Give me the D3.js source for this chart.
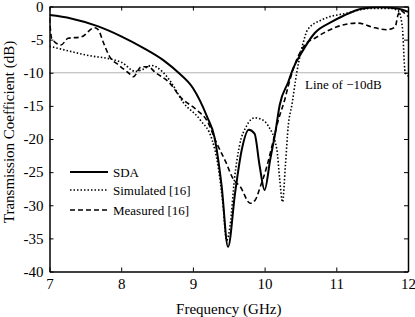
<!DOCTYPE html>
<html>
<head>
<meta charset="utf-8">
<script src="https://cdn.jsdelivr.net/npm/d3@7"></script>
<style>
  body { margin: 0; background: #fff; }
</style>
</head>
<body>
<div id="chart"></div>
<script>
// frequency (GHz) / transmission (dB)
var sdaF = [7.0, 7.3, 7.68, 8.0, 8.3, 8.6, 8.8, 9.0, 9.2, 9.3, 9.4, 9.49, 9.59, 9.68, 9.78, 9.86, 9.93, 10.0, 10.08, 10.15, 10.21, 10.33, 10.4, 10.52, 10.7, 10.94, 11.1, 11.37, 11.6, 11.85, 12.0];
var sdaDB = [-1.3, -1.8, -3.0, -4.5, -6.2, -8.2, -10, -12.3, -16.7, -19.7, -27, -36.3, -28, -21.7, -18.6, -19.2, -24, -27.7, -23, -19, -14.9, -11.4, -9.3, -6.9, -4, -2.3, -1.4, -0.3, -0.1, -0.3, -0.8];

var simF = [7.0, 7.5, 8.0, 8.2, 8.3, 8.42, 8.58, 8.7, 8.86, 9.1, 9.27, 9.35, 9.42, 9.47, 9.52, 9.58, 9.65, 9.75, 9.86, 9.95, 10.05, 10.17, 10.21, 10.25, 10.29, 10.33, 10.38, 10.45, 10.54, 10.6, 10.8, 11.15, 11.47, 11.75, 11.86, 11.92, 11.96, 12.0];
var simDB = [-6.0, -7.3, -8.4, -9.8, -9.5, -8.9, -9.9, -11.5, -14.4, -17.1, -20.2, -24, -30, -35.3, -33, -26, -21, -18, -16.8, -17, -18, -21.5, -26, -29.5, -24, -18, -14.9, -9.9, -5.4, -3.5, -2, -1, -0.3, -0.3, -0.6, -3, -9.9, -10.5];

var measF = [7.0, 7.03, 7.16, 7.26, 7.44, 7.63, 7.68, 7.75, 7.84, 7.96, 8.1, 8.17, 8.28, 8.38, 8.47, 8.68, 8.82, 9.05, 9.2, 9.33, 9.46, 9.56, 9.66, 9.8, 9.87, 9.94, 10.03, 10.1, 10.19, 10.28, 10.33, 10.42, 10.56, 10.7, 10.84, 11.0, 11.3, 11.5, 11.7, 11.82, 11.86, 11.9, 11.95, 12.0];
var measDB = [-1.7, -4.8, -5.8, -4.8, -4.6, -3.2, -3.5, -5.4, -7.6, -8.8, -10.0, -10.6, -9.1, -9.1, -9.9, -11.6, -13.6, -15.6, -17.3, -20.6, -23.5, -26, -27.2, -29.7, -29.2, -27.2, -24.2, -21.2, -17.2, -14.1, -12, -8.8, -5.8, -4.8, -3.9, -3.1, -2.5, -3.1, -3.5, -3.1, -1.3, -0.6, -1.0, -1.5];

var xTicks = [7, 8, 9, 10, 11, 12];
var yTicks = [0, -5, -10, -15, -20, -25, -30, -35, -40];
var seriesNames = ["SDA", "Simulated [16]", "Measured [16]"];

var serif = "'Liberation Serif', 'Times New Roman', Times, serif";
var width = 415, height = 317;
var margin = {top: 6.5, right: 7, bottom: 45.5, left: 49.5};

var svg = d3.select("#chart").append("svg")
    .attr("width", width).attr("height", height)
    .style("font-family", serif);

var x = d3.scaleLinear().domain([7, 12]).range([margin.left, width - margin.right]);
var y = d3.scaleLinear().domain([-40, 0]).range([height - margin.bottom, margin.top]);

// -10 dB reference line
svg.append("line")
    .attr("x1", x(7)).attr("x2", x(12))
    .attr("y1", y(-10)).attr("y2", y(-10))
    .style("stroke", "#b4b4b4").style("stroke-width", 1);

svg.append("text")
    .attr("x", 305).attr("y", y(-10) + 16)
    .style("font-family", serif)
    .style("font-size", "13px")
    .text("Line of \u221210dB");

var line = d3.line()
    .curve(d3.curveMonotoneX)
    .x(function(d){ return x(d[0]); })
    .y(function(d){ return y(d[1]); });

function zip(f, v){ return f.map(function(d, i){ return [d, v[i]]; }); }

var styles = [
    {w: 2, dash: null},
    {w: 1.6, dash: "1.5,2"},
    {w: 1.6, dash: "5,3"}
];
var sets = [zip(sdaF, sdaDB), zip(simF, simDB), zip(measF, measDB)];

svg.append("clipPath").attr("id", "plotclip").append("rect")
    .attr("x", x(7)).attr("y", y(0))
    .attr("width", x(12) - x(7)).attr("height", y(-40) - y(0));

sets.forEach(function(s, i){
    svg.append("path")
        .datum(s)
        .attr("clip-path", "url(#plotclip)")
        .attr("d", line)
        .style("fill", "none")
        .style("stroke", "#000")
        .style("stroke-width", styles[i].w)
        .style("stroke-dasharray", styles[i].dash);
});

// axes with inward ticks on all sides
svg.append("g").attr("transform", "translate(0," + y(-40) + ")")
    .call(d3.axisBottom(x).tickValues(xTicks).tickSizeInner(-4).tickSizeOuter(0).tickPadding(7)
        .tickFormat(d3.format("d")));
svg.append("g").attr("transform", "translate(" + x(7) + ",0)")
    .call(d3.axisLeft(y).tickValues(yTicks).tickSizeInner(-4).tickSizeOuter(0).tickPadding(6)
        .tickFormat(function(d){ return d === 0 ? "0" : "-" + Math.abs(d); }));
svg.append("g").attr("transform", "translate(0," + y(0) + ")")
    .call(d3.axisTop(x).tickValues(xTicks).tickSizeInner(-4).tickSizeOuter(0).tickFormat(""));
svg.append("g").attr("transform", "translate(" + x(12) + ",0)")
    .call(d3.axisRight(y).tickValues(yTicks).tickSizeInner(-4).tickSizeOuter(0).tickFormat(""));

svg.selectAll("g").attr("font-family", serif);
svg.selectAll(".domain").style("stroke", "#000").style("stroke-width", 1.5);
svg.selectAll(".tick line").style("stroke", "#000");
svg.selectAll(".tick text")
    .style("font-family", serif)
    .style("font-size", "15px").style("fill", "#000");

svg.append("text")
    .attr("x", (x(7) + x(12)) / 2).attr("y", 314)
    .attr("text-anchor", "middle")
    .style("font-family", serif)
    .style("font-size", "15px")
    .text("Frequency (GHz)");

svg.append("text")
    .attr("transform", "translate(14,132) rotate(-90)")
    .attr("text-anchor", "middle")
    .style("font-family", serif)
    .style("font-size", "15px")
    .text("Transmission Coefficient (dB)");

// legend
var legY = [172, 190, 210];
seriesNames.forEach(function(n, i){
    svg.append("line")
        .attr("x1", 70).attr("x2", 108)
        .attr("y1", legY[i]).attr("y2", legY[i])
        .style("stroke", "#000")
        .style("stroke-width", styles[i].w)
        .style("stroke-dasharray", styles[i].dash);
    svg.append("text")
        .attr("x", 113).attr("y", legY[i] + 4.5)
        .style("font-family", serif)
        .style("font-size", "13px")
        .text(n);
});
</script>
</body>
</html>
